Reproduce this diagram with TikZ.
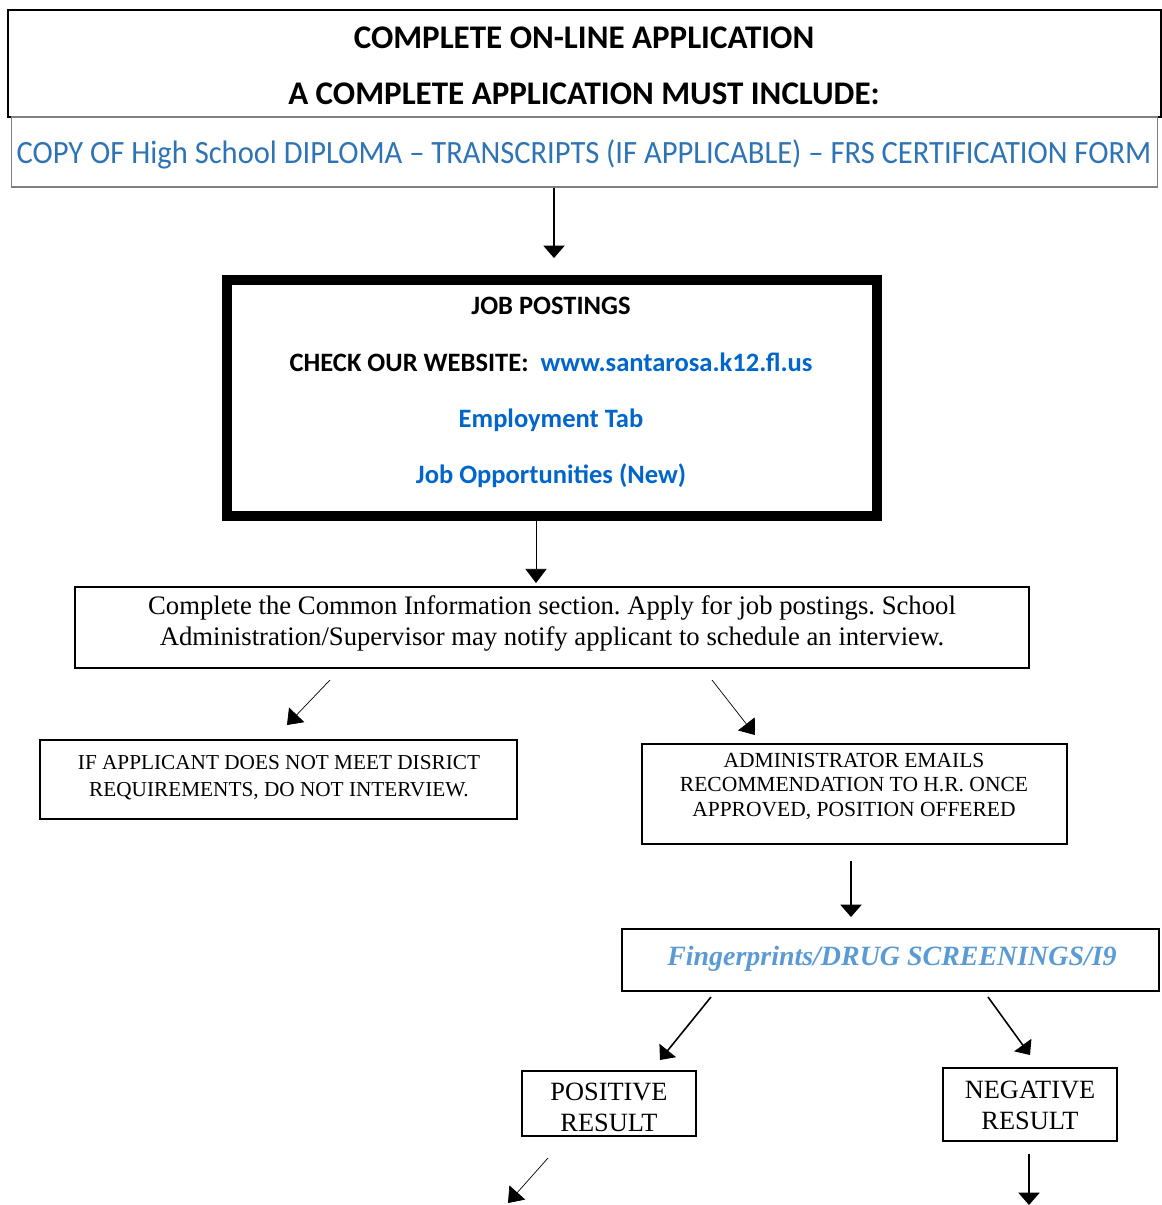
\documentclass[tikz,border=0pt]{standalone}
\usepackage{fontspec}
\setmainfont{Liberation Serif}
\newfontfamily\calibri{Carlito}
\newfontfamily\calibrin[FakeStretch=0.94]{Carlito}
\usetikzlibrary{arrows.meta}
\frenchspacing

\definecolor{rowblue}{RGB}{46,116,181}
\definecolor{linkblue}{RGB}{0,102,204}
\definecolor{paleblue}{RGB}{91,155,213}

\tikzset{
  box/.style={draw, line width=1.1pt, inner sep=0pt},
  txt/.style={align=center, inner sep=0pt},
  arr/.style={-{Triangle[width=12pt,length=7pt]}, line width=0.9pt},
  thinarr/.style={-{Triangle[width=12pt,length=8pt]}, line width=0.4pt},
}

\begin{document}
\begin{tikzpicture}[x=0.02cm, y=-0.02cm]
\useasboundingbox (0,0) rectangle (1161,1205);

% heading and list of documents
\node[box, minimum width=23.06cm, minimum height=2.14cm] (head) at (584.5,63.5) {};
\node[txt, font=\calibri\bfseries\fontsize{18.8}{31.7}\selectfont] (headtxt) at (584,66)
  {COMPLETE ON-LINE APPLICATION\\A COMPLETE APPLICATION MUST INCLUDE:};
\node[box, draw=gray, line width=0.6pt, minimum width=22.94cm, minimum height=1.4cm] (copy) at (584.5,152) {};
\node[txt, text=rowblue, font=\calibrin\fontsize{18.5}{20}\selectfont] (copytxt) at (584,154)
  {COPY OF High School DIPLOMA – TRANSCRIPTS (IF APPLICABLE) – FRS CERTIFICATION FORM};

% job postings
\node[box, line width=5.7pt, minimum width=13cm, minimum height=4.72cm] (jobs) at (552,398) {};
\node[txt, font=\calibri\bfseries\fontsize{15.1}{32}\selectfont] (jobstxt) at (551,392.5)
  {JOB POSTINGS\\
   CHECK OUR WEBSITE:\ \ \textcolor{linkblue}{www.santarosa.k12.fl.us}\\
   \textcolor{linkblue}{Employment Tab}\\
   \textcolor{linkblue}{Job Opportunities (New)}};

% common information
\node[box, minimum width=19.08cm, minimum height=1.62cm] (info) at (552,627.5) {};
\node[txt, font=\fontsize{15.2}{17.4}\selectfont] (infotxt) at (552,623.5)
  {Complete the Common Information section. Apply for job postings. School\\
   Administration/Supervisor may notify applicant to schedule an interview.};

% two outcomes
\node[box, minimum width=9.54cm, minimum height=1.58cm] (nomeet) at (278.5,779.5) {};
\node[txt, font=\fontsize{12.1}{15.3}\selectfont] (nomeettxt) at (279,777.5)
  {IF APPLICANT DOES NOT MEET DISRICT\\REQUIREMENTS, DO NOT INTERVIEW.};
\node[box, minimum width=8.5cm, minimum height=2cm] (offer) at (854.5,794) {};
\node[txt, font=\fontsize{12.25}{14}\selectfont] (offertxt) at (854,786.5)
  {ADMINISTRATOR EMAILS\\RECOMMENDATION TO H.R. ONCE\\APPROVED, POSITION OFFERED};

% screenings
\node[box, minimum width=10.74cm, minimum height=1.24cm] (screen) at (890.5,960) {};
\node[txt, text=paleblue, font=\bfseries\itshape\fontsize{15.9}{20}\selectfont] (screentxt) at (892,959)
  {Fingerprints/DRUG SCREENINGS/I9};

\node[box, minimum width=3.48cm, minimum height=1.3cm] (pos) at (609,1103.5) {};
\node[txt, font=\fontsize{15}{17.6}\selectfont] (postxt) at (609,1107) {POSITIVE\\RESULT};
\node[box, minimum width=3.48cm, minimum height=1.46cm] (neg) at (1030,1104.5) {};
\node[txt, font=\fontsize{15}{17.6}\selectfont] (negtxt) at (1030,1105) {NEGATIVE\\RESULT};

% arrow ends
\coordinate (tojobs) at (554,258);
\coordinate (toinfo) at (536,583);
\coordinate (fromleft) at (330,680);
\coordinate (toleft) at (287,725);
\coordinate (fromright) at (712,680);
\coordinate (toright) at (755,735);
\coordinate (toscreen) at (851,917);
\coordinate (fromscreenl) at (711,997);
\coordinate (topos) at (660,1060);
\coordinate (fromscreenr) at (988,997);
\coordinate (toneg) at (1030,1055);
\coordinate (frompos) at (548,1158);
\coordinate (posnext) at (508,1203);
\coordinate (negnext) at (1029,1205);

\draw[arr] (copy.south -| tojobs) -- (tojobs);
\draw[thinarr] (jobs.south -| toinfo) -- (toinfo);
\draw[thinarr] (fromleft) -- (toleft);
\draw[thinarr] (fromright) -- (toright);
\draw[arr] ([yshift=-0.32cm]offer.south -| toscreen) -- (toscreen);
\draw[arr] (fromscreenl) -- (topos);
\draw[arr] (fromscreenr) -- (toneg);
\draw[thinarr] (frompos) -- (posnext);
\draw[arr] ([yshift=-0.24cm]neg.south -| negnext) -- (negnext);
\end{tikzpicture}
\end{document}
